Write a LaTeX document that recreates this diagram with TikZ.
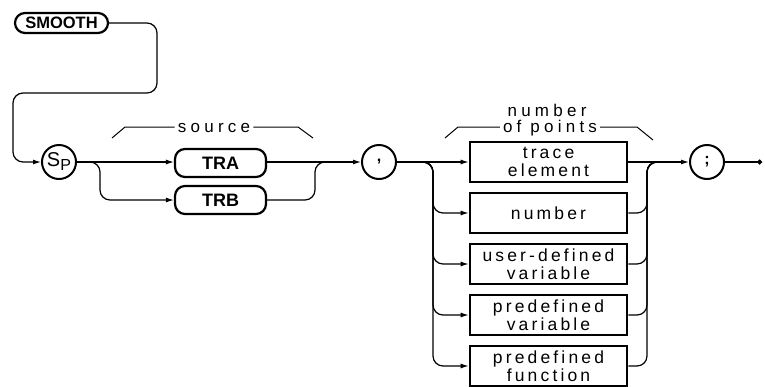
\documentclass[tikz,border=0pt]{standalone}
\usepackage{fontspec}
\setmainfont{Liberation Sans}
\newfontfamily\lab[LetterSpace=18]{Liberation Sans}
\newfontfamily\lbf[LetterSpace=25]{Liberation Sans}
\newfontfamily\kw{Liberation Sans}
\usetikzlibrary{arrows.meta}
\begin{document}
\begin{tikzpicture}[x=1pt,y=-1pt,
  conn/.style={line width=1.2pt},
  arr/.style={conn,-{Latex[length=8pt,width=5pt]}},
  kwbox/.style={draw,line width=2.2pt,rounded corners=10pt,minimum height=28pt,inner sep=0pt,font=\kw\bfseries\fontsize{18}{18}\selectfont},
  elbox/.style={draw,line width=2.6pt,minimum width=157pt,minimum height=40pt,inner sep=0pt,align=center,font=\lab\fontsize{17.5}{18.5}\selectfont},
  circ/.style={draw,circle,line width=2pt,minimum size=34pt,inner sep=0pt},
  lbl/.style={font=\lbf\fontsize{17}{17}\selectfont,inner sep=0pt,inner xsep=3pt,anchor=base},
  brk/.style={line width=1pt}]
\useasboundingbox (0,0) rectangle (765,386);
% nodes
\node[kwbox,minimum width=93pt,minimum height=20pt,font=\kw\bfseries\fontsize{16.5}{16.5}\selectfont] (smooth) at (61.5,23) {SMOOTH};
\node[circ,font=\kw\fontsize{20}{20}\selectfont] (sp) at (59,162) {S\raisebox{-4pt}{\fontsize{16}{16}\selectfont P}};
\node[kwbox,minimum width=91pt] (tra) at (220.5,163) {TRA};
\node[kwbox,minimum width=91pt] (trb) at (220.5,200) {TRB};
\node[circ,font=\kw\bfseries\fontsize{16}{16}\selectfont] (comma) at (379,162) {,};
\node[elbox] (te) at (548.5,162) {trace\\element};
\node[elbox] (num) at (548.5,213) {number};
\node[elbox] (ud) at (548.5,264) {user-defined\\variable};
\node[elbox] (pv) at (548.5,315) {predefined\\variable};
\node[elbox] (pf) at (548.5,366) {predefined\\function};
\node[circ,font=\kw\bfseries\fontsize{16}{16}\selectfont] (semi) at (707,162) {;};
\coordinate (end) at (762,162);
\coordinate (c1) at (157,23);
\coordinate (c2) at (157,93);
\coordinate (c3) at (13,93);
\coordinate (spb) at (100,162);
\coordinate (srcm) at (315,162);
\coordinate (srcj) at (330,162);
\coordinate (bl) at (433,162);
\coordinate (br) at (647,162);
\coordinate (brj) at (662,162);
% connectors
\draw[arr,rounded corners=10pt] (smooth.east) -- (c1) -- (c2) -- (c3) |- (sp.west);
\draw[arr] (sp.east) -- (tra.west |- sp.east);
\draw[arr,rounded corners=10pt] (sp.east) -- (spb) |- (trb.west);
\draw[arr] (tra.east |- comma.west) -- (comma.west);
\draw[conn,rounded corners=10pt] (trb.east) -| (srcm) -- (srcj);
\draw[arr] (comma.east) -- (te.west);
\foreach \b in {num,ud,pv,pf}{
  \draw[arr,rounded corners=10pt] (comma.east) -- (bl) |- (\b.west);
  \draw[conn,rounded corners=10pt] (\b.east) -| (br) -- (brj);
}
\draw[arr] (te.east) -- (semi.west);
\draw[conn,-{Circle[length=5pt]}] (semi.east) -- (end);
% brackets
\node[lbl] (src) at (214,132) {source};
\draw[brk] (112,138) -- (125,127) -- ([yshift=5pt]src.base west);
\draw[brk] ([yshift=5pt]src.base east) -- (298,127) -- (313,138);
\node[lbl] (nop) at (550,132) {of points};
\node[lbl] (nop2) at (547,116) {number};
\draw[brk] (445,138) -- (458,127) -- ([yshift=5pt]nop.base west);
\draw[brk] ([yshift=5pt]nop.base east) -- (637,127) -- (653,140);
\end{tikzpicture}
\end{document}
